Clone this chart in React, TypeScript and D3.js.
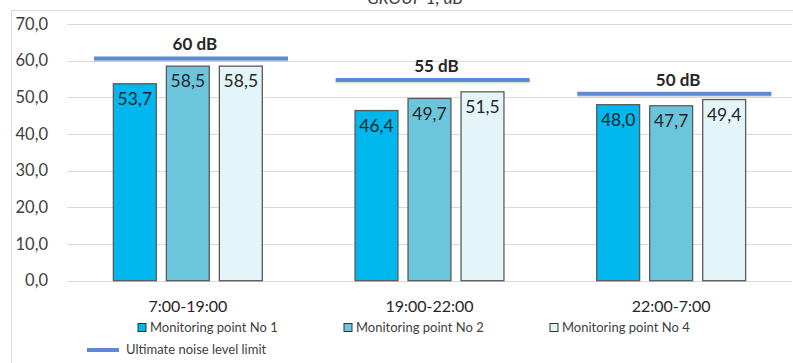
import React from "react";
import * as d3 from "d3";

const categories = ["7:00-19:00", "19:00-22:00", "22:00-7:00"];
const seriesNames = ["Monitoring point No 1", "Monitoring point No 2", "Monitoring point No 4"];
const point1 = [53.7, 46.4, 48.0];
const point2 = [58.5, 49.7, 47.7];
const point4 = [58.5, 51.5, 49.4];
const limitLabels = [60, 55, 50];
const limitDrawnLevel = [60.6, 54.7, 51.0];
const yTicks = [0, 10, 20, 30, 40, 50, 60, 70];
const seriesColors = ["#00B7EE", "#6AC5DD", "#E4F5FA"];
const limitColor = "#5B8AD6";
const seriesValues = [point1, point2, point4];

const W = 793;
const H = 363;
const fmt = (v: number) => v.toFixed(1).replace(".", ",");

export default function App() {
  const x = d3.scaleBand<string>().domain(categories).range([67, 792]).padding(0);
  const xs = d3
    .scaleBand<string>()
    .domain(seriesNames)
    .range([0, x.bandwidth()])
    .paddingInner(0.19)
    .paddingOuter(0.875);
  const y = d3.scaleLinear().domain([0, 70]).range([280.7, 24]);
  const font = "Lato, 'Open Sans', sans-serif";

  return (
    <svg
      width={W}
      height={H}
      style={{ position: "absolute", left: 0, top: 0, background: "#fff" }}
      fontFamily={font}
    >
      <text x={415} y={4} textAnchor="middle" fontSize={17} fontStyle="italic" fill="#404040">
        GROUP 1, dB
      </text>
      <line x1={12} x2={W} y1={10.5} y2={10.5} stroke="#d9d9d9" />
      <line x1={11.5} x2={11.5} y1={10} y2={H} stroke="#d9d9d9" />

      {yTicks.map((t) => (
        <g key={t}>
          <line x1={67} x2={792} y1={Math.round(y(t)) + 0.5} y2={Math.round(y(t)) + 0.5} stroke="#d9d9d9" strokeWidth={1.2} />
          <text x={48} y={y(t)} dy="0.35em" textAnchor="end" fontSize={16.5} fill="#404040">
            {fmt(t)}
          </text>
        </g>
      ))}

      {categories.map((c, ci) => (
        <g key={c}>
          {seriesNames.map((s, si) => {
            const v = seriesValues[si][ci];
            const bx = (x(c) as number) + (xs(s) as number);
            return (
              <g key={s}>
                <rect
                  x={bx}
                  y={y(v)}
                  width={xs.bandwidth()}
                  height={y(0) - y(v)}
                  fill={seriesColors[si]}
                  stroke="#5a5a5a"
                  strokeWidth={1.3}
                />
                <text
                  x={bx + xs.bandwidth() / 2}
                  y={y(v) + 15}
                  dy="0.35em"
                  textAnchor="middle"
                  fontSize={17.5}
                  fill="#262626"
                >
                  {fmt(v)}
                </text>
              </g>
            );
          })}
          <line
            x1={(x(c) as number) + 27}
            x2={(x(c) as number) + 221}
            y1={y(limitDrawnLevel[ci]) + 1.5}
            y2={y(limitDrawnLevel[ci]) + 1.5}
            stroke="#bfbfbf"
            strokeOpacity={0.5}
            strokeWidth={4}
          />
          <line
            x1={(x(c) as number) + 27}
            x2={(x(c) as number) + 221}
            y1={y(limitDrawnLevel[ci])}
            y2={y(limitDrawnLevel[ci])}
            stroke={limitColor}
            strokeWidth={4}
          />
          <text
            x={(x(c) as number) + x.bandwidth() / 2 + 7}
            y={y(limitDrawnLevel[ci]) - 8}
            textAnchor="middle"
            fontSize={17}
            fontWeight="bold"
            fill="#262626"
          >
            {limitLabels[ci]} dB
          </text>
          <text
            x={(x(c) as number) + x.bandwidth() / 2}
            y={312}
            textAnchor="middle"
            fontSize={16}
            fill="#262626"
          >
            {c}
          </text>
        </g>
      ))}

      {seriesNames.map((s, si) => {
        const lx = 138 + si * 206;
        return (
          <g key={s}>
            <rect x={lx} y={323.5} width={8} height={8} fill={seriesColors[si]} stroke="#333" strokeWidth={1} />
            <text x={lx + 12} y={327.5} dy="0.35em" fontSize={13} fill="#404040">
              {s}
            </text>
          </g>
        );
      })}
      <line x1={87} x2={119} y1={350} y2={350} stroke={limitColor} strokeWidth={4} />
      <text x={126} y={349} dy="0.35em" fontSize={13} fill="#404040">
        Ultimate noise level limit
      </text>
    </svg>
  );
}
